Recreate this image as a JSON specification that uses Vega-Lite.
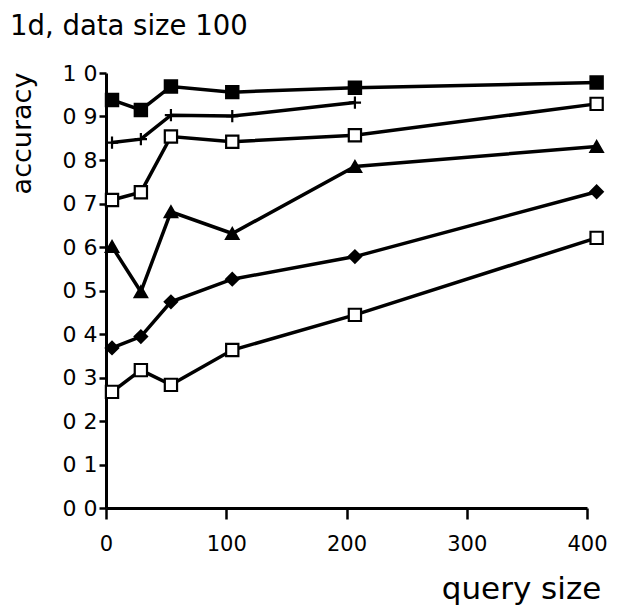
{
  "$schema": "https://vega.github.io/schema/vega-lite/v6.json",
  "autosize": "none",
  "width": 481,
  "height": 435,
  "padding": {"left": 106, "top": 73, "right": 35, "bottom": 101},
  "background": "white",
  "title": {
    "text": "1d, data size 100",
    "anchor": "start",
    "frame": "bounds",
    "offset": 22,
    "dx": 2,
    "font": "DejaVu Sans",
    "fontSize": 27.5,
    "fontWeight": "normal",
    "color": "black"
  },
  "config": {
    "view": {"stroke": null},
    "axis": {
      "grid": false,
      "domainColor": "black",
      "domainWidth": 3,
      "tickColor": "black",
      "tickWidth": 2.5,
      "labelFont": "DejaVu Sans",
      "labelColor": "black",
      "titleFont": "DejaVu Sans",
      "titleColor": "black",
      "titleFontWeight": "normal"
    }
  },
  "data": {
    "values": [
      {"series": "A", "query": 5, "accuracy": 0.938},
      {"series": "A", "query": 29, "accuracy": 0.915},
      {"series": "A", "query": 54, "accuracy": 0.969},
      {"series": "A", "query": 105, "accuracy": 0.956},
      {"series": "A", "query": 207, "accuracy": 0.966},
      {"series": "A", "query": 408, "accuracy": 0.978},
      {"series": "B", "query": 5, "accuracy": 0.84},
      {"series": "B", "query": 29, "accuracy": 0.848},
      {"series": "B", "query": 54, "accuracy": 0.903},
      {"series": "B", "query": 105, "accuracy": 0.901},
      {"series": "B", "query": 207, "accuracy": 0.932},
      {"series": "C", "query": 5, "accuracy": 0.708},
      {"series": "C", "query": 29, "accuracy": 0.726},
      {"series": "C", "query": 54, "accuracy": 0.854},
      {"series": "C", "query": 105, "accuracy": 0.842},
      {"series": "C", "query": 207, "accuracy": 0.857},
      {"series": "C", "query": 408, "accuracy": 0.929},
      {"series": "D", "query": 5, "accuracy": 0.601},
      {"series": "D", "query": 29, "accuracy": 0.497},
      {"series": "D", "query": 54, "accuracy": 0.681},
      {"series": "D", "query": 105, "accuracy": 0.631},
      {"series": "D", "query": 207, "accuracy": 0.785},
      {"series": "D", "query": 408, "accuracy": 0.831},
      {"series": "E", "query": 5, "accuracy": 0.368},
      {"series": "E", "query": 29, "accuracy": 0.394},
      {"series": "E", "query": 54, "accuracy": 0.474},
      {"series": "E", "query": 105, "accuracy": 0.526},
      {"series": "E", "query": 207, "accuracy": 0.578},
      {"series": "E", "query": 408, "accuracy": 0.727},
      {"series": "F", "query": 5, "accuracy": 0.267},
      {"series": "F", "query": 29, "accuracy": 0.317},
      {"series": "F", "query": 54, "accuracy": 0.283},
      {"series": "F", "query": 105, "accuracy": 0.363},
      {"series": "F", "query": 207, "accuracy": 0.444},
      {"series": "F", "query": 408, "accuracy": 0.621}
    ]
  },
  "encoding": {
    "x": {
      "field": "query",
      "type": "quantitative",
      "scale": {"domain": [0, 400], "nice": false, "zero": false},
      "axis": {
        "values": [0, 100, 200, 300, 400],
        "title": "query size",
        "titleFontSize": 31,
        "titleX": 415,
        "titleY": 81,
        "titleAlign": "center",
        "titleBaseline": "middle",
        "labelFontSize": 21,
        "tickSize": 11,
        "labelPadding": 14,
        "labelFlush": false
      }
    },
    "y": {
      "field": "accuracy",
      "type": "quantitative",
      "scale": {"domain": [0, 1], "nice": false},
      "axis": {
        "values": [0, 0.1, 0.2, 0.3, 0.4, 0.5, 0.6, 0.7, 0.8, 0.9, 1],
        "labelExpr": "replace(format(datum.value, '.1f'), '.', ' ')",
        "title": "accuracy",
        "titleFontSize": 27,
        "titleAngle": -90,
        "titleX": -84,
        "titleY": 60,
        "titleAlign": "center",
        "titleBaseline": "middle",
        "labelFontSize": 22,
        "tickSize": 7,
        "labelPadding": 2,
        "labelFlush": false
      }
    }
  },
  "layer": [
    {
      "mark": {"type": "line", "color": "black", "strokeWidth": 3.5},
      "encoding": {"detail": {"field": "series"}}
    },
    {
      "mark": {"type": "point", "filled": true, "stroke": "black", "strokeWidth": 2.2, "opacity": 1, "fillOpacity": 1},
      "encoding": {
        "shape": {
          "field": "series",
          "scale": {
            "domain": ["A", "B", "C", "D", "E", "F"],
            "range": ["square", "M-1,0L1,0M0,-1L0,1", "square", "triangle-up", "diamond", "square"]
          },
          "legend": null
        },
        "fill": {
          "field": "series",
          "scale": {
            "domain": ["A", "B", "C", "D", "E", "F"],
            "range": ["black", "black", "white", "black", "black", "white"]
          },
          "legend": null
        },
        "size": {
          "field": "series",
          "scale": {
            "domain": ["A", "B", "C", "D", "E", "F"],
            "range": [150, 150, 110, 130, 110, 100]
          },
          "legend": null
        }
      }
    }
  ]
}
